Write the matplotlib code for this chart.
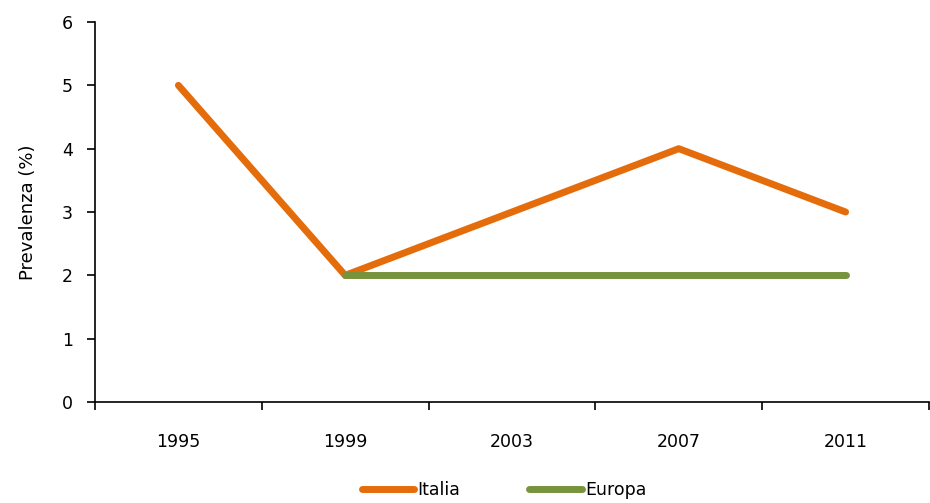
import numpy as np
import matplotlib.pyplot as plt

anni = ['1995', '1999', '2003', '2007', '2011']
italia = [5, 2, 3, 4, 3]
europa = [np.nan, 2, 2, 2, 2]

plt.rcParams['font.family'] = ['DejaVu Sans']
plt.rcParams['font.size'] = 12.5

fig = plt.figure(figsize=(9.30, 5.03), dpi=100)
ax = fig.add_axes([95/930, 101/503, 834/930, 380/503])

x = np.arange(len(anni))
ax.plot(x, italia, color='#E46C0A', lw=5, solid_capstyle='round', label='Italia')
ax.plot(x, europa, color='#77933C', lw=5, solid_capstyle='round', label='Europa')

ax.set_xlim(-0.5, len(anni) - 0.5)
ax.set_ylim(0, 6)
ax.set_yticks(range(7))
# tick marks between categories, labels at the centres
ax.set_xticks(np.arange(-0.5, len(anni), 1.0))
ax.set_xticklabels([])
ax.set_xticks(x, minor=True)
ax.set_xticklabels(anni, minor=True)
ax.tick_params(axis='x', which='major', length=6, width=1.2, direction='out')
ax.tick_params(axis='x', which='minor', length=0, pad=22)
ax.tick_params(axis='y', length=6, width=1.2, direction='out', pad=10)

for s in ['top', 'right']:
    ax.spines[s].set_visible(False)
for s in ['left', 'bottom']:
    ax.spines[s].set_linewidth(1.2)

ax.set_ylabel('Prevalenza (%)', fontsize=13, labelpad=18)

fig.legend(loc='center', bbox_to_anchor=(504/930, 13/503), ncol=2, frameon=False,
           handlelength=3.0, handletextpad=0.2, columnspacing=4.0)

fig.savefig('out.png', dpi=100)
